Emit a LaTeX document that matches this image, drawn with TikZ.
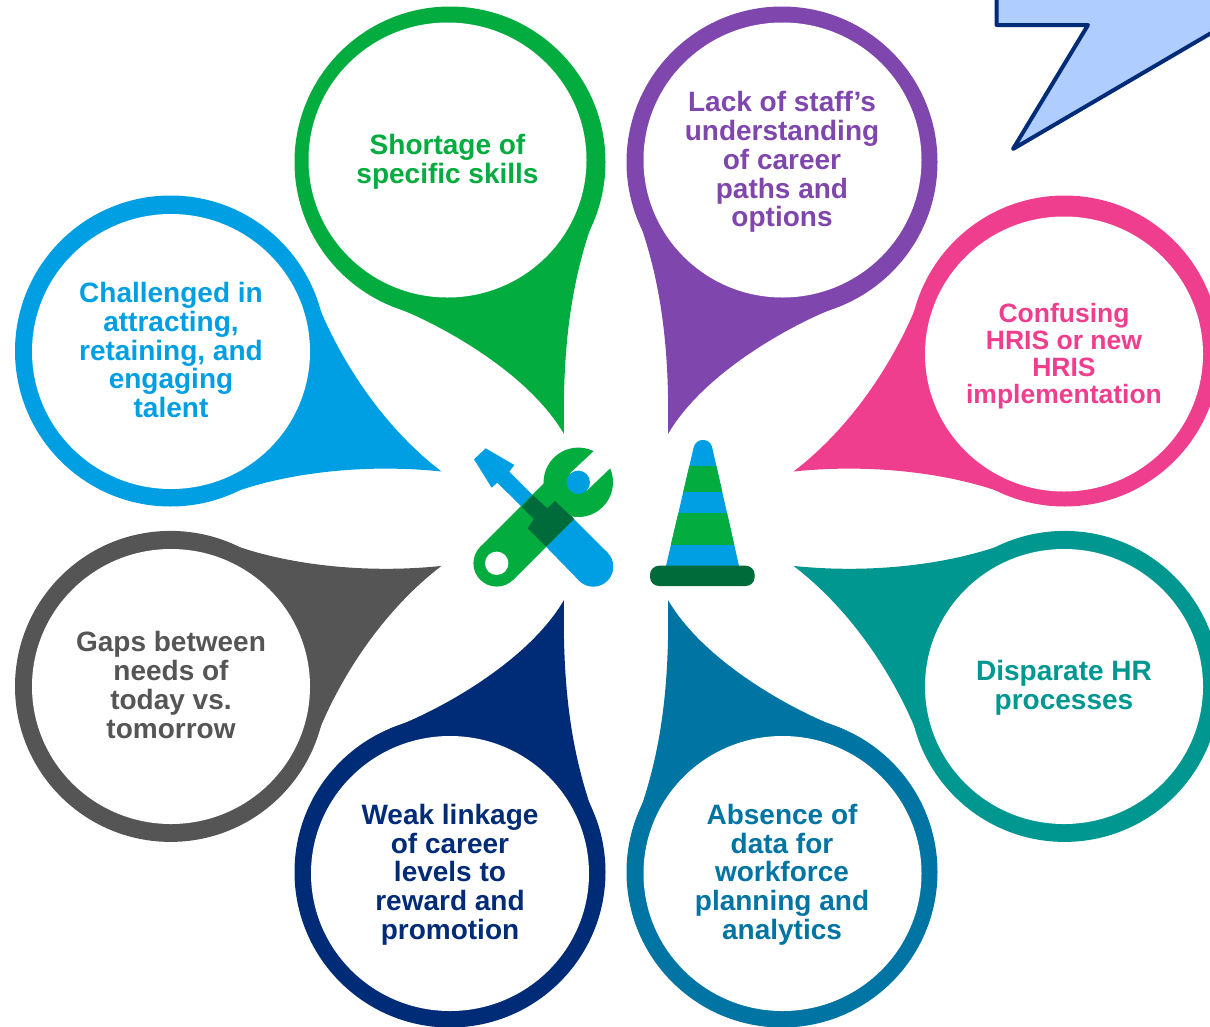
\documentclass[tikz,border=0pt]{standalone}
\usepackage{fontspec}
\setmainfont{Liberation Sans}
\definecolor{skillgreen}{HTML}{03AC3F}
\definecolor{staffpurple}{HTML}{7F47AE}
\definecolor{hrispink}{HTML}{F03E8E}
\definecolor{hrteal}{HTML}{009790}
\definecolor{talentblue}{HTML}{009EE3}
\definecolor{gapgray}{HTML}{555555}
\definecolor{linknavy}{HTML}{002B77}
\definecolor{dataocean}{HTML}{0074A2}
\definecolor{darkgreen}{HTML}{006B3A}
\definecolor{boltblue}{HTML}{AFCEFF}
\tikzset{
	petaltext/.style={inner sep=0pt,align=center,
		font=\fontsize{28}{28.8}\selectfont\bfseries},
}
\newcommand{\tallpetal}[5]{
	\fill[#5,shift={(#1,#2)},xscale=#3,yscale=#4] (0,0) circle[radius=155.5pt];
	\fill[#5,shift={(#1,#2)},xscale=#3,yscale=#4] (0,0) -- (-60,143.5) .. controls (-25,155) and (75,205) .. (114,272)
		.. controls (112,170) and (125,105) .. (148,45) -- cycle;
}
\newcommand{\widepetal}[5]{
	\fill[#5,shift={(#1,#2)},xscale=#3,yscale=#4] (0,0) circle[radius=155.5pt];
	\fill[#5,shift={(#1,#2)},xscale=#3,yscale=#4] (0,0) -- (142,-61) .. controls (162,-5) and (205,70) .. (271,120.5)
		.. controls (190,112) and (110,123) .. (56,144) -- cycle;
}
\newcommand{\petalhole}[2]{
	\fill[white] (#1,#2) ellipse[x radius=139pt,y radius=137.5pt];
}
\begin{document}
\begin{tikzpicture}[x=1pt,y=-1pt]
	\useasboundingbox (0,0) rectangle (1210,1026);
	\clip (0,0) rectangle (1210,1026);
	% bolt in the corner
	\draw[linknavy,fill=boltblue,line width=4pt,line join=round] (996.5,-10) -- (996.5,25) -- (1088,25) -- (1013,149) -- (1230,22) -- (1230,-10) -- cycle;
	% petals
	\tallpetal{450}{162}{1}{1}{skillgreen}
	\tallpetal{782}{162}{-1}{1}{staffpurple}
	\tallpetal{450}{872}{1}{-1}{linknavy}
	\tallpetal{782}{872}{-1}{-1}{dataocean}
	\widepetal{170.5}{351}{1}{1}{talentblue}
	\widepetal{170.5}{686.4}{1}{-1}{gapgray}
	\widepetal{1064.5}{351}{-1}{1}{hrispink}
	\widepetal{1064.5}{686.4}{-1}{-1}{hrteal}
	\petalhole{447.5}{160}
	\petalhole{782.5}{160}
	\petalhole{450}{873.5}
	\petalhole{782.5}{873.5}
	\petalhole{171}{351.5}
	\petalhole{171}{686.5}
	\petalhole{1064}{354}
	\petalhole{1064}{686.5}
	\node[petaltext,text=skillgreen] (skills) at (447.5,162) {Shortage of\\specific skills};
	\node[petaltext,text=staffpurple] (staff) at (782,162) {Lack of staff’s\\understanding\\of career\\paths and\\options};
	\node[petaltext,text=talentblue] (talent) at (171,350) {Challenged in\\attracting,\\retaining, and\\engaging\\talent};
	\node[petaltext,text=hrispink,font=\fontsize{26.5}{27.2}\selectfont\bfseries] (hris) at (1064,356) {Confusing\\HRIS or new\\HRIS\\implementation};
	\node[petaltext,text=gapgray] (gaps) at (171,685) {Gaps between\\needs of\\today vs.\\tomorrow};
	\node[petaltext,text=hrteal] (processes) at (1064,688) {Disparate HR\\processes};
	\node[petaltext,text=linknavy] (linkage) at (450,874.7) {Weak linkage\\of career\\levels to\\reward and\\promotion};
	\node[petaltext,text=dataocean] (absence) at (782,874.7) {Absence of\\data for\\workforce\\planning and\\analytics};
	% screwdriver
	\fill[talentblue] (485.7,448.3) -- (514.3,465) -- (509.3,471.7) -- (532.7,495) -- (574,519) -- (607.4,552.6) -- (579.2,580.8) -- (546,546.7) -- (521.7,506.7) -- (497.3,482.7) -- (491.7,487.7) -- (474,459.3) -- cycle;
	\fill[talentblue] (593.3,566.7) circle[radius=20pt];
	% wrench
	\fill[skillgreen] (578.3,482.3) circle[radius=34.7pt];
	\fill[skillgreen] (496.7,563.3) circle[radius=23.3pt];
	\fill[skillgreen] (480.2,546.8) -- (545,482) -- (574,519) -- (513.2,579.8) -- cycle;
	\fill[white] (570,473.3) -- (593.3,451.7) -- (602,441) -- (625,462) -- (610,468.3) -- (586.7,490.7) -- cycle;
	\fill[talentblue] (578.3,482.3) circle[radius=11.7pt];
	\fill[white] (496.7,563.3) circle[radius=11.7pt];
	\fill[darkgreen] (532.7,495) -- (521.7,506.7) -- (534,519) -- (527.7,528.3) -- (546,546.7) -- (574,519) -- (555,501) -- (547.3,508.3) -- cycle;
	% cone
	\begin{scope}
		\clip[rounded corners=7pt] (662.7,580) -- (695.4,440) -- (710.5,440) -- (742.2,580) -- cycle;
		\fill[talentblue] (650,436) rectangle (755,580);
		\fill[skillgreen] (650,466) rectangle (755,492.3);
		\fill[skillgreen] (650,513.3) rectangle (755,545);
	\end{scope}
	\fill[darkgreen,rounded corners=9pt] (650,565.7) rectangle (754.7,586);
\end{tikzpicture}
\end{document}
